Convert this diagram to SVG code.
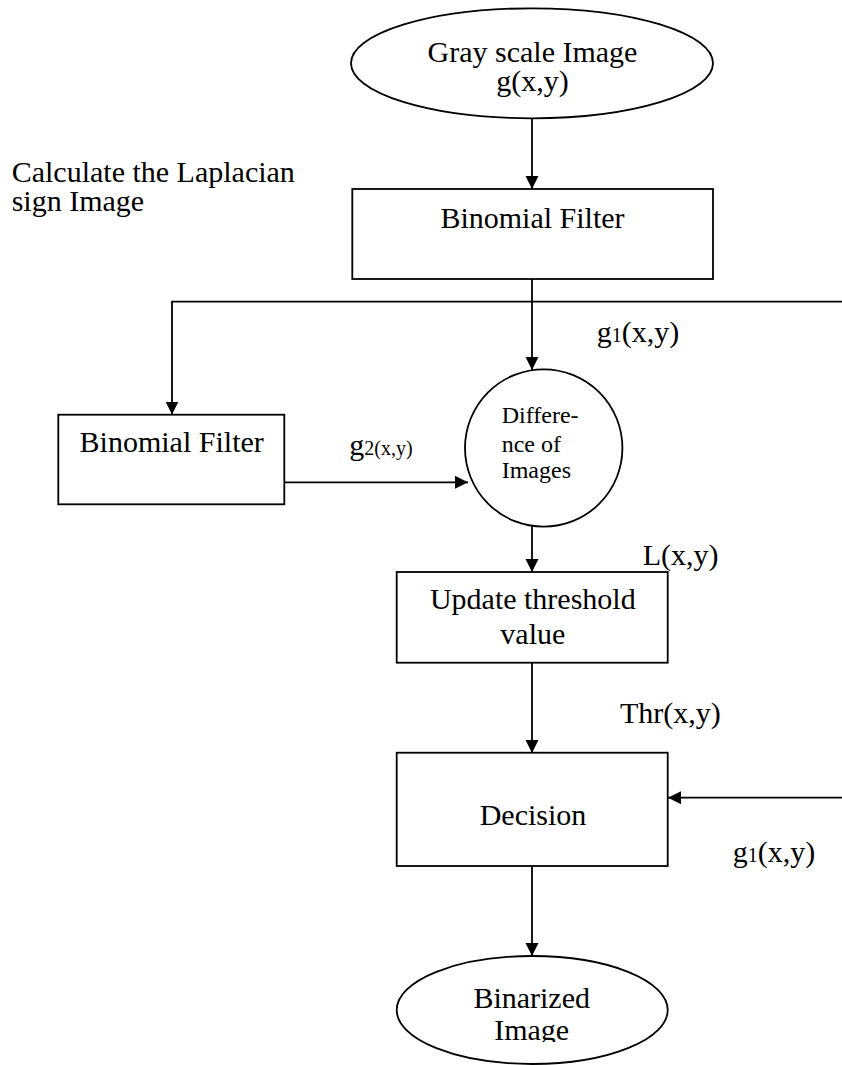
<svg xmlns="http://www.w3.org/2000/svg" width="842" height="1065" viewBox="0 0 842 1065">
  <style>
    .shape { fill: #ffffff; stroke: #000000; stroke-width: 1.8; }
    .wire { fill: none; stroke: #000000; stroke-width: 1.8; }
    text { font-family: "Liberation Serif", "Times New Roman", serif; fill: #000000; }
    .main { font-size: 30px; }
    .mid { text-anchor: middle; }
    .small { font-size: 24px; }
    .sub { font-size: 20px; }
  </style>
  <defs>
    <marker id="head" markerUnits="userSpaceOnUse" markerWidth="14" markerHeight="14" refX="13" refY="6.5" orient="auto">
      <path d="M0,0 L13,6.5 L0,13 Z" fill="#000000"/>
    </marker>
    <clipPath id="pageBottom">
      <rect x="380" y="960" width="300" height="82"/>
    </clipPath>
  </defs>

  <rect width="842" height="1065" fill="#ffffff"/>

  <!-- connectors -->
  <g id="connectors">
    <line class="wire" x1="532" y1="118" x2="532" y2="189" marker-end="url(#head)"/>
    <line class="wire" x1="532" y1="279" x2="532" y2="370" marker-end="url(#head)"/>
    <polyline class="wire" points="842,301.7 172,301.7 172,414.5" marker-end="url(#head)"/>
    <line class="wire" x1="284.5" y1="482.3" x2="468" y2="482.3" marker-end="url(#head)"/>
    <line class="wire" x1="532" y1="526" x2="532" y2="572" marker-end="url(#head)"/>
    <line class="wire" x1="532" y1="663" x2="532" y2="753" marker-end="url(#head)"/>
    <line class="wire" x1="842" y1="797.7" x2="668" y2="797.7" marker-end="url(#head)"/>
    <line class="wire" x1="532" y1="866" x2="532" y2="956" marker-end="url(#head)"/>
  </g>

  <!-- connector labels -->
  <g id="labels">
    <text class="main" x="596.7" y="341.7">g<tspan class="sub">1</tspan>(x,y)</text>
    <text class="main" x="349.3" y="455">g<tspan class="sub">2(x,y)</tspan></text>
    <text class="main" x="642.7" y="565">L(x,y)</text>
    <text class="main" x="620" y="723.3">Thr(x,y)</text>
    <text class="main" x="732.7" y="861.7">g<tspan class="sub">1</tspan>(x,y)</text>
  </g>

  <!-- caption -->
  <g id="caption">
    <text class="main" x="11.7" y="182">Calculate the Laplacian</text>
    <text class="main" x="11.7" y="211">sign Image</text>
  </g>

  <g id="gray-image">
    <ellipse class="shape" cx="532" cy="63.3" rx="181" ry="55"/>
    <text class="main mid" x="532.5" y="61.7">Gray scale Image</text>
    <text class="main mid" x="532.5" y="90.7">g(x,y)</text>
  </g>

  <g id="binomial-filter-1">
    <rect class="shape" x="352.3" y="189" width="360.7" height="90"/>
    <text class="main mid" x="532.5" y="227.7">Binomial Filter</text>
  </g>

  <g id="binomial-filter-2">
    <rect class="shape" x="58.3" y="414.7" width="226" height="89.6"/>
    <text class="main mid" x="171.7" y="452.3">Binomial Filter</text>
  </g>

  <g id="difference">
    <circle class="shape" cx="543.7" cy="448" r="78.7"/>
    <text class="small" x="501.7" y="423.3">Differe-</text>
    <text class="small" x="501.7" y="451.7">nce of</text>
    <text class="small" x="501.7" y="478.3">Images</text>
  </g>

  <g id="update-threshold">
    <rect class="shape" x="396.7" y="572" width="271" height="90.7"/>
    <text class="main mid" x="532.8" y="609">Update threshold</text>
    <text class="main mid" x="532.8" y="644">value</text>
  </g>

  <g id="decision">
    <rect class="shape" x="396.7" y="752.7" width="271" height="113.3"/>
    <text class="main mid" x="533" y="825">Decision</text>
  </g>

  <g id="binarized">
    <ellipse class="shape" cx="532.2" cy="1010" rx="135.5" ry="54"/>
    <g clip-path="url(#pageBottom)">
      <text class="main mid" x="531.7" y="1008.3">Binarized</text>
      <text class="main mid" x="531.7" y="1040">Image</text>
    </g>
  </g>
</svg>
